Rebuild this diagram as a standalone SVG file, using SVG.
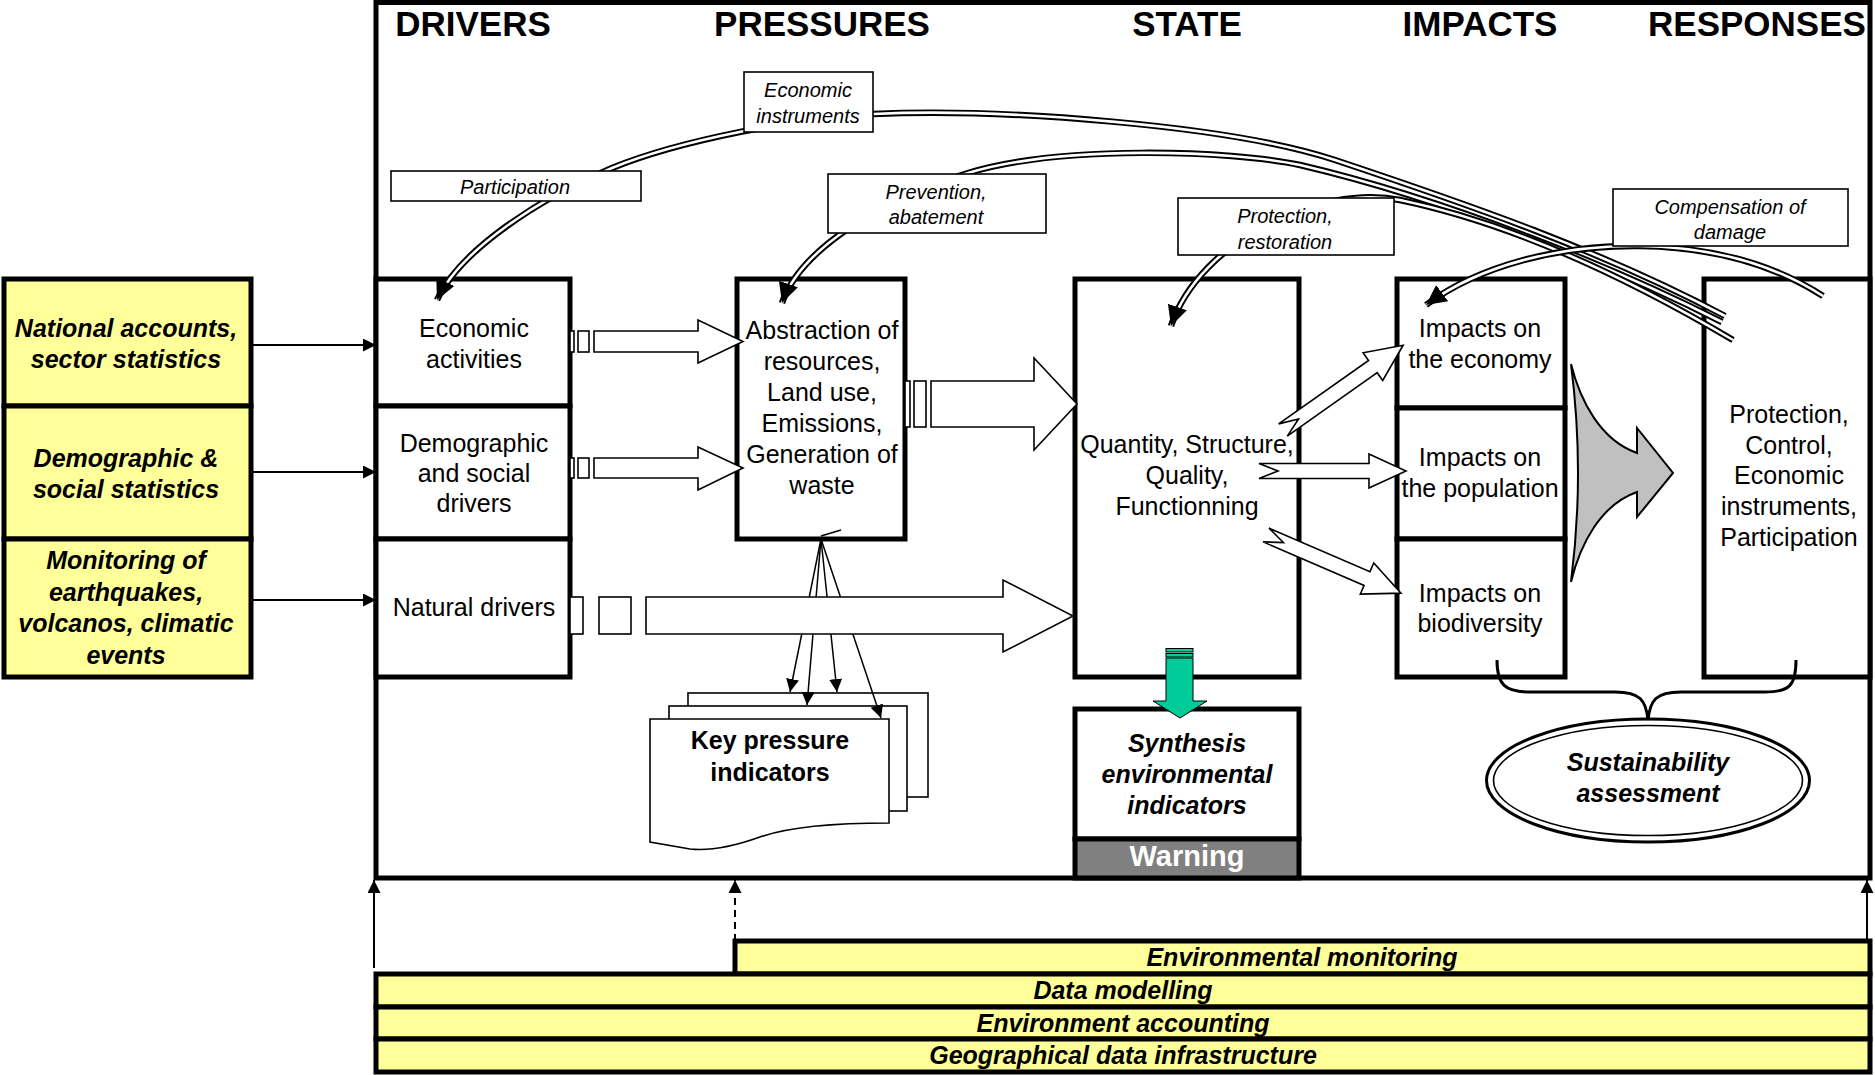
<svg xmlns="http://www.w3.org/2000/svg" width="1875" height="1075" viewBox="0 0 1875 1075">
<defs>
<style>
text{font-family:"Liberation Sans",Arial,Helvetica,sans-serif;fill:#000}
.c{text-anchor:middle}
.n{font-size:25px}
.bi{font-size:25px;font-weight:bold;font-style:italic}
.b{font-weight:bold}
.hdr{font-size:35px;font-weight:bold}
.lbl{font-size:20px;font-style:italic}
.box{fill:#fff;stroke:#000;stroke-width:5}
.ybox{fill:#ffff99;stroke:#000;stroke-width:5}
.lbox{fill:#fff;stroke:#000;stroke-width:1.6}
.hol{fill:#fff;stroke:#000;stroke-width:1.6;stroke-linejoin:miter}
.thin{fill:none;stroke:#000;stroke-width:1.6}
.dbo{fill:none;stroke:#000;stroke-width:6.5}
.dbi{fill:none;stroke:#fff;stroke-width:2.6;marker-end:url(#ah)}
.sl{fill:none;stroke:#000;stroke-width:2;marker-end:url(#sa)}
.il{fill:none;stroke:#000;stroke-width:1.5;marker-end:url(#sa)}
</style>
<marker id="ah" markerUnits="userSpaceOnUse" markerWidth="22" markerHeight="22" refX="20" refY="10" orient="auto"><path d="M0,0 L20,10 L0,20 Z" fill="#000"/></marker>
<marker id="sa" markerUnits="userSpaceOnUse" markerWidth="14" markerHeight="14" refX="13" refY="6.5" orient="auto"><path d="M0,0 L13,6.5 L0,13 Z" fill="#000"/></marker>
<polygon id="bolt" points="0,-7.5 110,-7.5 110,-17 147,0 110,17 110,7.5 0,7.5 19,0"/>
</defs>

<g id="frame">
<rect x="376" y="2.5" width="1494" height="875.5" fill="#fff" stroke="#000" stroke-width="5"/>
<text class="hdr c" x="473" y="36">DRIVERS</text>
<text class="hdr c" x="822" y="36">PRESSURES</text>
<text class="hdr c" x="1187" y="36">STATE</text>
<text class="hdr c" x="1480" y="36">IMPACTS</text>
<text class="hdr c" x="1757" y="36">RESPONSES</text>
</g>

<g id="national-accounts">
<rect class="ybox" x="4" y="279" width="247" height="127"/>
<text class="bi c" x="126" y="337">National accounts,</text>
<text class="bi c" x="126" y="368">sector statistics</text>
</g>
<g id="demographic-statistics">
<rect class="ybox" x="4" y="406" width="247" height="133"/>
<text class="bi c" x="126" y="467">Demographic &amp;</text>
<text class="bi c" x="126" y="498">social statistics</text>
</g>
<g id="monitoring-events">
<rect class="ybox" x="4" y="539" width="247" height="138"/>
<text class="bi c" x="126" y="569">Monitoring of</text>
<text class="bi c" x="126" y="601">earthquakes,</text>
<text class="bi c" x="126" y="632">volcanos, climatic</text>
<text class="bi c" x="126" y="664">events</text>
</g>

<g id="economic-activities">
<rect class="box" x="376" y="279" width="194" height="127"/>
<text class="n c" x="474" y="337">Economic</text>
<text class="n c" x="474" y="368">activities</text>
</g>
<g id="demographic-drivers">
<rect class="box" x="376" y="406" width="194" height="133"/>
<text class="n c" x="474" y="452">Demographic</text>
<text class="n c" x="474" y="482">and social</text>
<text class="n c" x="474" y="512">drivers</text>
</g>
<g id="natural-drivers">
<rect class="box" x="376" y="539" width="194" height="138"/>
<text class="n c" x="474" y="616">Natural drivers</text>
</g>

<g id="pressures">
<rect class="box" x="737" y="279" width="168" height="260"/>
<text class="n c" x="822" y="339">Abstraction of</text>
<text class="n c" x="822" y="370">resources,</text>
<text class="n c" x="822" y="401">Land use,</text>
<text class="n c" x="822" y="432">Emissions,</text>
<text class="n c" x="822" y="463">Generation of</text>
<text class="n c" x="822" y="494">waste</text>
</g>

<g id="state">
<rect class="box" x="1075" y="279" width="224" height="398"/>
<text class="n c" x="1187" y="453">Quantity, Structure,</text>
<text class="n c" x="1187" y="484">Quality,</text>
<text class="n c" x="1187" y="515">Functionning</text>
</g>

<g id="impact-economy">
<rect class="box" x="1397" y="279" width="168" height="129"/>
<text class="n c" x="1480" y="337">Impacts on</text>
<text class="n c" x="1480" y="368">the economy</text>
</g>
<g id="impact-population">
<rect class="box" x="1397" y="408" width="168" height="131"/>
<text class="n c" x="1480" y="466">Impacts on</text>
<text class="n c" x="1480" y="497">the population</text>
</g>
<g id="impact-biodiversity">
<rect class="box" x="1397" y="539" width="168" height="138"/>
<text class="n c" x="1480" y="602">Impacts on</text>
<text class="n c" x="1480" y="632">biodiversity</text>
</g>

<g id="responses">
<rect class="box" x="1704" y="279" width="166" height="398"/>
<text class="n c" x="1789" y="423">Protection,</text>
<text class="n c" x="1789" y="454">Control,</text>
<text class="n c" x="1789" y="484">Economic</text>
<text class="n c" x="1789" y="515">instruments,</text>
<text class="n c" x="1789" y="546">Participation</text>
</g>

<g id="synthesis-indicators">
<rect class="box" x="1075" y="709" width="224" height="130"/>
<rect x="1075" y="839" width="224" height="39" fill="#808080" stroke="#000" stroke-width="5"/>
<text class="bi c" x="1187" y="752">Synthesis</text>
<text class="bi c" x="1187" y="783">environmental</text>
<text class="bi c" x="1187" y="814">indicators</text>
<text class="c b" x="1187" y="866" style="font-size:29px;fill:#fff">Warning</text>
</g>

<g id="environmental-monitoring">
<rect class="ybox" x="735" y="941" width="1135" height="33"/>
<text class="bi c" x="1302" y="966">Environmental monitoring</text>
</g>
<g id="data-modelling">
<rect class="ybox" x="376" y="974" width="1494" height="33"/>
<text class="bi c" x="1123" y="999">Data modelling</text>
</g>
<g id="environment-accounting">
<rect class="ybox" x="376" y="1007" width="1494" height="32"/>
<text class="bi c" x="1123" y="1032">Environment accounting</text>
</g>
<g id="geographical-data">
<rect class="ybox" x="376" y="1039" width="1494" height="33"/>
<text class="bi c" x="1123" y="1064">Geographical data infrastructure</text>
</g>

<g id="key-pressure-indicators">
<rect x="688" y="693" width="240" height="104" fill="#fff" stroke="#000" stroke-width="1.6"/>
<rect x="669" y="706" width="238" height="105" fill="#fff" stroke="#000" stroke-width="1.6"/>
<path d="M650,719 H889 V823 Q800,823 760,837 Q718,852 690,849 L650,842 Z" fill="#fff" stroke="#000" stroke-width="1.6"/>
<text class="c b" x="770" y="749" style="font-size:25px">Key pressure</text>
<text class="c b" x="770" y="781" style="font-size:25px">indicators</text>
</g>

<g id="sustainability-assessment">
<ellipse cx="1648" cy="780.5" rx="161.5" ry="61.5" fill="#fff" stroke="#000" stroke-width="3"/>
<ellipse cx="1648" cy="780.5" rx="154.5" ry="55" fill="none" stroke="#000" stroke-width="1.6"/>
<text class="bi c" x="1648" y="771">Sustainability</text>
<text class="bi c" x="1648" y="802">assessment</text>
</g>

<g id="connectors">
<!-- data sources to drivers -->
<path class="sl" d="M253,345 H376"/>
<path class="sl" d="M253,472 H376"/>
<path class="sl" d="M253,600 H376"/>
<!-- bottom upward arrows -->
<path class="sl" d="M374,968 V880"/>
<path class="sl" d="M735,941 V880" stroke-dasharray="7,5"/>
<path class="sl" d="M1867,941 V880"/>
<!-- pressure indicator lines -->
<path d="M821,536 L841,530" class="thin"/>
<path class="il" d="M821,539 L790,692"/>
<path class="il" d="M821,539 L807,705"/>
<path class="il" d="M821,539 L837,692"/>
<path class="il" d="M821,539 L881,718"/>
<!-- hollow arrows -->
<rect class="hol" x="570" y="331" width="4" height="21"/>
<rect class="hol" x="578" y="331" width="11" height="21"/>
<polygon class="hol" points="594,331 698,331 698,320 743,341.5 698,363 698,352 594,352"/>
<rect class="hol" x="570" y="458" width="4" height="20"/>
<rect class="hol" x="578" y="458" width="11" height="20"/>
<polygon class="hol" points="594,458 698,458 698,447 743,468 698,490 698,478 594,478"/>
<rect class="hol" x="570" y="597" width="13" height="37"/>
<rect class="hol" x="599" y="597" width="32" height="37"/>
<polygon class="hol" points="646,597 1003,597 1003,580 1073,616 1003,652 1003,634 646,634"/>
<rect class="hol" x="905" y="381" width="5" height="46"/>
<rect class="hol" x="914" y="381" width="12" height="46"/>
<polygon class="hol" points="931,381 1034,381 1034,358 1077,404 1034,450 1034,427 931,427"/>
<use href="#bolt" class="hol" transform="translate(1283,430) rotate(-35.2)"/>
<use href="#bolt" class="hol" transform="translate(1259,471)"/>
<use href="#bolt" class="hol" transform="translate(1266,535) rotate(23.3)"/>
<!-- impacts to responses -->
<path d="M1571,364 C1580,400 1600,440 1637,453 L1637,428 L1673,473 L1637,517 L1637,492 C1600,505 1580,545 1571,582 Q1585,473 1571,364 Z" fill="#c0c0c0" stroke="#000" stroke-width="2"/>
<!-- state to synthesis -->
<rect x="1166" y="648.5" width="27" height="3.5" fill="#00cc99" stroke="#000" stroke-width="1"/>
<rect x="1166" y="653.5" width="27" height="3.5" fill="#00cc99" stroke="#000" stroke-width="1"/>
<polygon points="1166,658 1193,658 1193,701 1207,701 1180,718 1153,701 1166,701" fill="#00cc99" stroke="#000" stroke-width="1"/>
<!-- brace -->
<path d="M1497,660 C1497,685 1505,692 1530,692 L1615,692 C1640,692 1646,700 1648,720 C1650,700 1656,692 1681,692 L1765,692 C1790,692 1796,685 1796,660" fill="none" stroke="#000" stroke-width="3"/>
<!-- response feedback arcs -->
<path class="dbo" d="M1725,316 C1600,250 1470,205 1335,160 C1230,125 1000,108 873,114 C800,117.5 680,140 612,168 C540,198 460,250 437,300"/>
<path class="dbi" d="M1725,316 C1600,250 1470,205 1335,160 C1230,125 1000,108 873,114 C800,117.5 680,140 612,168 C540,198 460,250 437,300"/>
<path class="dbo" d="M1722,322 C1620,270 1450,200 1300,165 C1230,150 1060,145 968,173 C880,200 800,250 782,303"/>
<path class="dbi" d="M1722,322 C1620,270 1450,200 1300,165 C1230,150 1060,145 968,173 C880,200 800,250 782,303"/>
<path class="dbo" d="M1733,340 C1640,285 1520,225 1400,200 C1320,184 1200,240 1171,326"/>
<path class="dbi" d="M1733,340 C1640,285 1520,225 1400,200 C1320,184 1200,240 1171,326"/>
<path class="dbo" d="M1823,296 C1770,262 1710,247 1640,246 C1560,245 1480,265 1426,305"/>
<path class="dbi" d="M1823,296 C1770,262 1710,247 1640,246 C1560,245 1480,265 1426,305"/>
</g>

<g id="label-economic-instruments">
<rect class="lbox" x="744" y="72" width="129" height="60"/>
<text class="lbl c" x="808" y="97">Economic</text>
<text class="lbl c" x="808" y="123">instruments</text>
</g>
<g id="label-participation">
<rect class="lbox" x="391" y="171" width="250" height="30"/>
<text class="lbl c" x="515" y="194">Participation</text>
</g>
<g id="label-prevention">
<rect class="lbox" x="828" y="174" width="218" height="59"/>
<text class="lbl c" x="936" y="199">Prevention,</text>
<text class="lbl c" x="936" y="224">abatement</text>
</g>
<g id="label-protection">
<rect class="lbox" x="1178" y="198" width="216" height="57"/>
<text class="lbl c" x="1285" y="223">Protection,</text>
<text class="lbl c" x="1285" y="249">restoration</text>
</g>
<g id="label-compensation">
<rect class="lbox" x="1613" y="189" width="235" height="57"/>
<text class="lbl c" x="1730" y="214">Compensation of</text>
<text class="lbl c" x="1730" y="239">damage</text>
</g>
</svg>
